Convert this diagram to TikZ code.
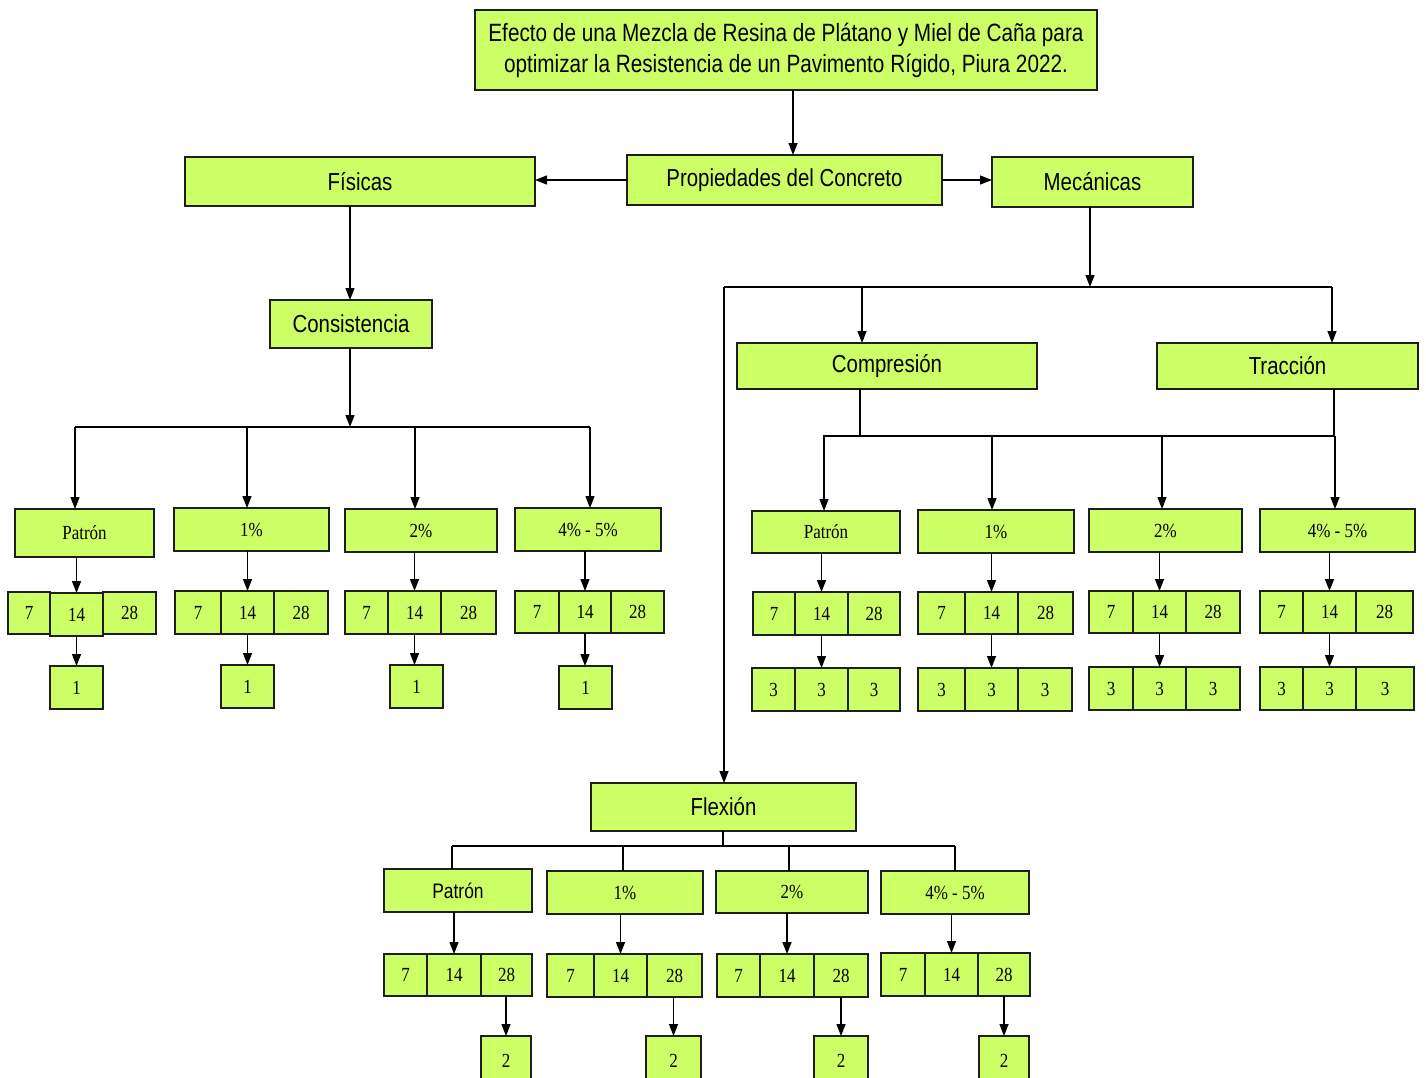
\documentclass[tikz,border=0pt]{standalone}
\usepackage{fontspec}
\usetikzlibrary{arrows.meta}
\newfontfamily\ns[FakeStretch=0.83]{Liberation Sans}
\newfontfamily\nr[FakeStretch=0.85]{Liberation Serif}
\definecolor{boxfill}{RGB}{204,255,102}
\definecolor{boxline}{RGB}{30,30,30}
\tikzset{
  box/.style={draw=boxline, fill=boxfill, line width=1.3pt, inner sep=0pt, outer sep=0pt, align=center},
  sbig/.style={font=\ns\fontsize{24.6}{31}\selectfont},
  stitle/.style={font=\ns\fontsize{25}{31}\selectfont},
  ssmall/.style={font=\ns\fontsize{21}{25}\selectfont},
  ser/.style={font=\nr\fontsize{20}{24}\selectfont},
  arr/.style={-{Triangle[length=12pt,width=9pt]}, line width=1.3pt, draw=black},
  ln/.style={line width=1.1pt, draw=black}
}
\newcommand\B[7]{\node[box,#6,minimum width={(#4-#2)*1pt},minimum height={(#5-#3)*1pt}] (#1) at ({(#2+#4)/2},{(#3+#5)/2}) {#7};}
\begin{document}
\begin{tikzpicture}[x=1pt,y=-1pt]
\clip (0,0) rectangle (1426,1077);
\fill[white] (0,0) rectangle (1426,1077);
% top level
\B{title}{475}{10}{1097}{90}{stitle}{Efecto de una Mezcla de Resina de Plátano y Miel de Caña para\\optimizar la Resistencia de un Pavimento Rígido, Piura 2022.}
\B{prop}{627}{155}{942}{205}{sbig}{Propiedades del Concreto}
\B{fis}{185}{157}{535}{206}{sbig}{Físicas}
\B{mec}{992}{157}{1193}{207}{sbig}{Mecánicas}
\B{cons}{270}{300}{432}{348}{sbig}{Consistencia}
\B{comp}{737}{343}{1037}{389}{sbig}{Compresión}
\B{trac}{1157}{343}{1418}{389}{sbig}{Tracción}
\B{flex}{591}{783}{856}{831}{sbig}{Flexión}
% left groups
\B{lg1}{15}{509}{154}{557}{ser}{Patrón}
\B{la1}{8}{592}{50}{634}{ser}{7}
\B{lb1}{50}{593}{103}{636}{ser}{14}
\B{lc1}{103}{592}{156}{634}{ser}{28}
\B{ld1}{50}{666}{103}{709}{ser}{1}
\B{lg2}{174}{508}{329}{551}{ser}{1\%}
\B{la2}{175}{591}{221}{634}{ser}{7}
\B{lb2}{221}{591}{274}{634}{ser}{14}
\B{lc2}{274}{591}{328}{634}{ser}{28}
\B{ld2}{221}{665}{274}{708}{ser}{1}
\B{lg3}{345}{509}{497}{552}{ser}{2\%}
\B{la3}{345}{591}{388}{634}{ser}{7}
\B{lb3}{388}{591}{441}{634}{ser}{14}
\B{lc3}{441}{591}{496}{634}{ser}{28}
\B{ld3}{390}{665}{443}{708}{ser}{1}
\B{lg4}{515}{508}{661}{551}{ser}{4\% - 5\%}
\B{la4}{515}{591}{559}{633}{ser}{7}
\B{lb4}{559}{591}{611}{633}{ser}{14}
\B{lc4}{611}{591}{664}{633}{ser}{28}
\B{ld4}{559}{666}{612}{709}{ser}{1}
% right groups
\B{rg1}{752}{511}{900}{553}{ser}{Patrón}
\B{ra1}{753}{592}{795}{635}{ser}{7}
\B{rb1}{795}{592}{848}{635}{ser}{14}
\B{rc1}{848}{592}{900}{635}{ser}{28}
\B{rx1}{752}{668}{795}{711}{ser}{3}
\B{ry1}{795}{668}{848}{711}{ser}{3}
\B{rz1}{848}{668}{900}{711}{ser}{3}
\B{rg2}{918}{510}{1074}{553}{ser}{1\%}
\B{ra2}{918}{592}{965}{634}{ser}{7}
\B{rb2}{965}{592}{1018}{634}{ser}{14}
\B{rc2}{1018}{592}{1073}{634}{ser}{28}
\B{rx2}{918}{668}{965}{711}{ser}{3}
\B{ry2}{965}{668}{1018}{711}{ser}{3}
\B{rz2}{1018}{668}{1072}{711}{ser}{3}
\B{rg3}{1089}{509}{1242}{552}{ser}{2\%}
\B{ra3}{1089}{591}{1133}{633}{ser}{7}
\B{rb3}{1133}{591}{1186}{633}{ser}{14}
\B{rc3}{1186}{591}{1240}{633}{ser}{28}
\B{rx3}{1089}{667}{1133}{710}{ser}{3}
\B{ry3}{1133}{667}{1186}{710}{ser}{3}
\B{rz3}{1186}{667}{1240}{710}{ser}{3}
\B{rg4}{1260}{509}{1415}{552}{ser}{4\% - 5\%}
\B{ra4}{1260}{591}{1303}{633}{ser}{7}
\B{rb4}{1303}{591}{1356}{633}{ser}{14}
\B{rc4}{1356}{591}{1413}{633}{ser}{28}
\B{rx4}{1260}{667}{1303}{710}{ser}{3}
\B{ry4}{1303}{667}{1356}{710}{ser}{3}
\B{rz4}{1356}{667}{1414}{710}{ser}{3}
% bottom groups
\B{fg1}{384}{869}{532}{912}{ssmall}{Patrón}
\B{fa1}{384}{954}{427}{996}{ser}{7}
\B{fb1}{427}{954}{481}{996}{ser}{14}
\B{fc1}{481}{954}{532}{996}{ser}{28}
\B{fd1}{481}{1036}{531}{1085}{ser}{2}
\B{fg2}{547}{871}{703}{914}{ser}{1\%}
\B{fa2}{547}{954}{594}{997}{ser}{7}
\B{fb2}{594}{954}{647}{997}{ser}{14}
\B{fc2}{647}{954}{702}{997}{ser}{28}
\B{fd2}{646}{1036}{701}{1085}{ser}{2}
\B{fg3}{716}{871}{868}{913}{ser}{2\%}
\B{fa3}{717}{954}{760}{997}{ser}{7}
\B{fb3}{760}{954}{814}{997}{ser}{14}
\B{fc3}{814}{954}{868}{997}{ser}{28}
\B{fd3}{814}{1036}{868}{1085}{ser}{2}
\B{fg4}{881}{871}{1029}{914}{ser}{4\% - 5\%}
\B{fa4}{881}{953}{925}{996}{ser}{7}
\B{fb4}{925}{953}{978}{996}{ser}{14}
\B{fc4}{978}{953}{1030}{996}{ser}{28}
\B{fd4}{979}{1036}{1029}{1085}{ser}{2}
% top connectors
\draw[arr] (title.south -| 793,0) -- (prop.north -| 793,0);
\draw[arr] (prop.west) -- (prop.west -| fis.east);
\draw[arr] (prop.east) -- (prop.east -| mec.west);
\draw[arr] (fis.south -| 350,0) -- (cons.north -| 350,0);
% consistencia branch
\coordinate (cj) at (350,427);
\draw[arr] (cons.south -| cj) -- (cj);
\draw[ln] (75,427) -- (590,427);
\draw[arr] (75,427) -- (lg1.north -| 75,0);
\draw[arr] (247,427) -- (lg2.north -| 247,0);
\draw[arr] (415,427) -- (lg3.north -| 415,0);
\draw[arr] (590,427) -- (lg4.north -| 590,0);
\foreach \i in {1,2,3,4}{
  \draw[arr] (lg\i.south -| lb\i.north) -- (lb\i.north);
  \draw[arr] (lb\i.south) -- (ld\i.north -| lb\i.south);
}
% mecanicas branch
\coordinate (mj) at (1090,287);
\draw[arr] (mec.south -| mj) -- (mj);
\draw[ln] (724,287) -- (1332,287);
\draw[arr] (862,287) -- (comp.north -| 862,0);
\draw[arr] (1332,287) -- (trac.north -| 1332,0);
\draw[arr] (724,287) -- (flex.north -| 724,0);
% compresion / traccion branch
\draw[ln] (comp.south -| 860,0) -- (860,436);
\draw[ln] (trac.south -| 1334,0) -- (1334,436);
\draw[ln] (823,436) -- (1334,436);
\draw[arr] (824,436) -- (rg1.north -| 824,0);
\draw[arr] (992,436) -- (rg2.north -| 992,0);
\draw[arr] (1162,436) -- (rg3.north -| 1162,0);
\draw[arr] (1335,436) -- (rg4.north -| 1335,0);
\foreach \i in {1,2,3,4}{
  \draw[arr] (rg\i.south -| rb\i.north) -- (rb\i.north);
  \draw[arr] (rb\i.south) -- (ry\i.north -| rb\i.south);
}
% flexion branch
\draw[ln] (flex.south -| 723,0) -- (723,846);
\draw[ln] (452,846) -- (955,846);
\draw[ln] (452,846) -- (fg1.north -| 452,0);
\draw[ln] (623,846) -- (fg2.north -| 623,0);
\draw[ln] (789,846) -- (fg3.north -| 789,0);
\draw[ln] (955,846) -- (fg4.north -| 955,0);
\foreach \i in {1,2,3,4}{
  \draw[arr] (fg\i.south -| fb\i.north) -- (fb\i.north);
  \draw[arr] (fc\i.south -| fd\i.north) -- (fd\i.north);
}
\end{tikzpicture}
\end{document}
